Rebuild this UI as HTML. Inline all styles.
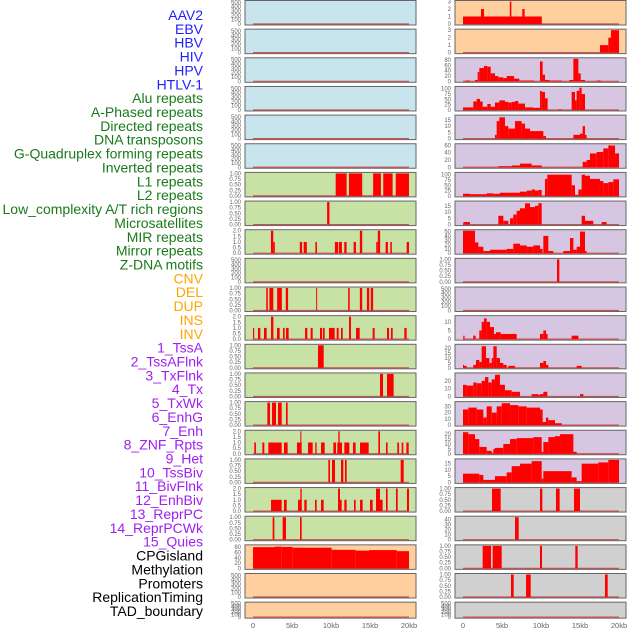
<!DOCTYPE html>
<html><head><meta charset="utf-8">
<style>
html,body{margin:0;padding:0;background:#fff;width:630px;height:630px;overflow:hidden}
svg{display:block}
text{font-family:"Liberation Sans",sans-serif}
</style></head>
<body>
<svg id="chart" width="630" height="630" viewBox="0 0 630 630"></svg>
<script>
const categories=["AAV2","EBV","HBV","HIV","HPV","HTLV-1","Alu repeats","A-Phased repeats","Directed repeats","DNA transposons","G-Quadruplex forming repeats","Inverted repeats","L1 repeats","L2 repeats","Low_complexity A/T rich regions","Microsatellites","MIR repeats","Mirror repeats","Z-DNA motifs","CNV","DEL","DUP","INS","INV","1_TssA","2_TssAFlnk","3_TxFlnk","4_Tx","5_TxWk","6_EnhG","7_Enh","8_ZNF_Rpts","9_Het","10_TssBiv","11_BivFlnk","12_EnhBiv","13_ReprPC","14_ReprPCWk","15_Quies","CPGisland","Methylation","Promoters","ReplicationTiming","TAD_boundary"];
const categoryGroups=[6,13,5,15,5];
const groupColors=["#1f1fff","#1a7a1a","#ffa500","#a020f0","#000000"];
const xTickLabels=["0","5kb","10kb","15kb","20kb"];
const xTickValues=[0,5,10,15,20];
const leftBg=["b","b","b","b","b","b","g","g","g","g","g","g","g","g","g","g","g","g","g","o","o","o"];
const rightBg=["o","o","p","p","p","p","p","p","p","p","p","p","p","p","p","p","p","e","e","e","e","e"];
const leftTicks=[null,null,null,null,null,null,"1","1","2",null,"1","2","1","1","1","2","1","2","1","80",null,null];
const rightTicks=["3","3","80","100","15","60","100","15","50","1",null,"10","20","20b","30","20","15","1","40","1","1",null];
const leftBars=[[],[],[],[],[],[],
[[10.6,12.0,1],[12.3,14.0,1],[15.4,16.4,1],[16.7,17.9,1],[18.3,20.0,1]],
[[9.5,9.8,1]],
[[2.3,2.6,2],[2.6,2.8,1],[6.0,6.3,1],[6.5,6.9,1],[8.0,8.2,1],[10.5,10.9,1],[11.0,11.4,1],[11.7,12.0,1],[12.9,13.2,1],[13.7,14.0,2],[15.8,16.0,1],[16.0,16.3,2],[17.0,17.3,1],[17.6,17.8,1],[19.7,20.0,1]],
[],
[[1.7,1.9,1],[2.1,2.6,1],[3.1,3.7,1],[4.2,4.5,1],[8.1,8.2,1],[12.2,12.4,1],[13.7,14.0,1],[14.6,14.9,1],[15.1,15.4,1]],
[[0,0.15,1],[0.64,0.94,1],[1.41,1.75,1],[2.31,2.61,2],[3.08,3.42,1],[3.85,4.06,1],[4.23,4.57,1],[6.67,6.97,1],[7.39,7.65,1],[8.59,8.85,1],[8.97,9.19,1],[9.74,10.47,1],[10.73,10.98,1],[11.28,11.5,1],[12.31,12.56,2],[13.21,13.68,1],[15.34,15.6,1],[17.18,17.44,1],[17.69,17.91,1],[19.4,19.7,1]],
[[8.33,9.06,1]],
[[16.28,16.67,1],[17.18,18.03,1]],
[[1.84,2.18,1],[2.44,2.95,1],[3.21,3.68,1],[4.23,4.44,1]],
[[0.17,0.38,1],[1.2,1.45,1],[1.97,3.68,1],[3.97,4.44,1],[5.64,6.24,1],[6.07,6.2,2],[7.05,7.65,1],[7.99,8.16,1],[8.72,9.19,1],[10.3,10.64,1],[10.81,11.41,1],[10.94,11.11,2],[11.71,12.35,1],[12.82,13.16,1],[13.72,14.83,1],[16.07,16.28,2],[17.05,17.26,1],[18.5,18.72,1],[19.06,19.27,1],[19.66,19.96,1]],
[[9.66,9.87,1],[10.13,10.51,1],[11.28,11.58,1],[11.79,12.01,1],[18.93,19.32,1]],
[[2.31,3.68,1],[3.97,4.32,1],[5.77,6.24,1],[6.07,6.24,2],[6.58,6.88,1],[7.95,8.16,1],[8.72,9.06,1],[10.98,11.37,1],[10.9,11.15,2],[11.71,12.0,1],[12.95,13.16,1],[13.72,14.06,1],[15.0,15.34,1],[15.77,16.28,2],[16.28,16.62,1],[17.05,17.26,2],[18.33,18.55,2],[19.74,20.0,2]],
[[2.52,2.74,1],[3.8,4.23,1],[6.03,6.24,1]],
[[0,2.82,80],[2.82,3.68,82],[3.68,5.09,81],[5.09,10.09,78],[10.09,13.16,70],[13.16,14.87,67],[14.87,18.42,69],[18.42,20.0,65]],
[],[]];
const rightBars=[
[[0,10.1,1],[2.3,2.7,2],[6.0,6.2,3],[7.6,7.9,2]],
[[17.56,18.63,1],[18.63,18.97,2],[18.97,20.0,3]],
[[0.26,0.9,3],[1.54,1.88,5],[1.88,2.09,35],[2.09,2.69,50],[2.69,3.12,58],[3.12,3.55,55],[3.55,4.1,30],[4.1,4.53,20],[4.53,5.17,15],[5.17,5.6,12],[5.6,6.54,20],[6.54,7.22,10],[7.22,9.1,3],[9.87,10.21,75],[10.21,10.51,25],[10.51,11.07,5],[11.07,12.65,3],[13.63,14.15,5],[14.15,14.79,85],[14.79,15.09,30],[15.09,15.64,5],[17.14,17.65,3]],
[[0,1.32,12],[1.32,1.75,40],[1.75,2.18,52],[2.18,2.52,40],[2.52,3.12,15],[3.12,3.55,28],[3.55,4.1,15],[4.1,4.66,35],[4.66,5.38,45],[5.38,5.81,38],[5.81,6.24,35],[6.24,6.67,38],[6.67,7.09,42],[7.09,7.95,30],[7.95,9.02,12],[9.02,9.87,10],[9.87,10.09,90],[10.09,10.51,85],[10.51,10.85,55],[12.22,12.65,3],[13.93,14.36,85],[14.36,14.57,45],[14.57,14.91,90],[14.91,15.21,105],[15.21,15.64,75]],
[[4.1,4.32,3],[4.32,4.66,14],[4.66,5.38,17],[5.38,5.81,10],[5.81,6.67,8],[6.67,7.52,14],[7.52,7.95,12],[7.95,8.59,8],[8.59,10.3,6],[10.3,10.64,2],[14.15,15.0,3],[15.0,15.34,4],[15.34,15.64,10],[15.64,15.85,3]],
[[4.53,6.24,3],[6.24,7.31,5],[7.31,8.8,10],[8.8,10.09,5],[15.34,15.85,15],[15.85,16.28,20],[16.28,17.14,38],[17.14,17.99,42],[17.99,18.63,52],[18.63,19.49,60],[19.49,20.0,38]],
[[0,0.9,10],[0.9,3.03,8],[3.03,3.89,12],[3.89,4.74,10],[4.74,7.31,15],[7.31,8.16,20],[8.16,8.8,25],[8.8,9.23,30],[9.23,9.66,25],[9.66,10.09,28],[10.51,10.81,80],[10.81,13.93,100],[13.93,14.36,50],[14.36,14.79,5],[14.79,15.21,30],[15.21,15.64,100],[15.64,16.28,95],[16.28,17.56,80],[17.56,17.99,70],[17.99,18.63,60],[18.63,19.27,65],[19.27,20.0,78]],
[[0.04,0.9,2],[4.53,5.17,7],[5.17,5.81,3],[6.03,6.45,5],[6.45,6.88,8],[6.88,7.31,11],[7.31,7.95,13],[7.95,8.59,17],[8.59,9.23,14],[9.23,9.66,15],[9.66,10.09,17],[15.21,15.64,7],[15.64,16.71,3],[17.78,18.42,2]],
[[0,1.54,52],[1.54,1.97,25],[1.97,2.61,15],[2.61,3.46,5],[3.46,5.6,8],[5.6,6.45,10],[6.45,7.31,22],[7.31,8.16,18],[8.16,9.02,15],[9.02,9.87,18],[9.87,10.21,10],[10.3,10.94,40],[10.94,11.58,5],[12.86,13.72,5],[13.72,14.15,35],[14.15,14.57,8],[14.57,15.0,15],[15.0,15.64,50],[15.64,15.85,5]],
[[12.05,12.35,1]],
[],
[[0.04,0.2,2],[1.32,1.62,2],[2.09,2.39,5],[2.39,2.69,10],[2.69,3.03,12],[3.03,3.46,10],[3.46,3.97,7],[3.97,4.23,3],[4.23,4.83,4],[4.83,6.88,3],[9.87,10.3,3],[10.3,10.64,5],[10.64,10.85,3],[13.93,14.79,2]],
[[0,0.04,3],[0.04,0.47,2],[1.32,1.67,3],[1.67,2.09,8],[2.09,2.39,6],[2.39,2.95,22],[2.95,3.38,10],[3.38,3.68,5],[3.68,3.89,10],[3.89,4.32,22],[4.32,4.74,10],[4.74,5.17,5],[5.17,5.6,3],[5.81,6.67,2],[9.87,10.3,5],[10.3,10.64,7],[10.64,10.94,3],[14.57,15.21,2]],
[[0,0.47,15],[0.47,1.32,14],[1.32,1.75,18],[1.75,2.39,17],[2.39,2.82,20],[2.82,3.25,25],[3.25,3.68,18],[3.68,4.1,22],[4.1,4.74,28],[4.74,5.38,15],[5.38,6.24,8],[6.24,7.31,6],[8.8,9.66,3],[9.66,9.87,2],[9.87,10.3,3],[10.3,10.81,6],[15.0,15.43,3]],
[[0,0.68,25],[0.68,1.75,28],[1.75,2.61,25],[2.61,3.03,12],[3.03,3.68,30],[3.68,4.32,20],[4.32,4.96,30],[4.96,6.03,35],[6.03,7.09,32],[7.09,8.16,30],[8.16,9.87,28],[9.87,10.21,25],[10.21,10.64,5],[10.64,10.94,12],[10.94,11.79,8],[11.79,12.65,3]],
[[0,0.68,22],[0.68,1.54,20],[1.54,2.09,15],[2.09,3.03,7],[3.03,3.68,3],[3.68,3.89,1],[3.89,4.1,5],[4.1,5.17,6],[5.17,6.03,10],[6.03,6.88,15],[6.88,9.02,16],[9.02,10.09,17],[10.09,10.3,2],[10.3,10.94,12],[10.94,11.79,17],[11.79,12.44,18],[12.44,14.15,20],[14.15,14.57,2]],
[[0,2.09,7],[2.09,2.61,6],[2.61,4.1,2],[4.1,5.6,5],[5.6,6.24,8],[6.24,7.31,13],[7.31,8.8,15],[8.8,10.09,17],[10.09,10.3,3],[10.3,13.93,9],[13.93,14.57,4],[14.57,15.21,1],[15.21,17.35,15],[17.35,18.63,16],[18.63,20.0,18]],
[[3.72,4.83,1],[9.87,10.17,1],[11.92,12.39,1],[14.23,15.0,1]],
[[6.67,7.14,45]],
[[2.52,3.59,1],[3.8,4.96,1],[9.87,10.13,1],[14.4,14.7,1]],
[[6.15,6.5,1],[8.08,8.68,1],[18.2,18.55,1]],
[]];

const NS="http://www.w3.org/2000/svg";
const svg=document.getElementById('chart');
function mk(tag,attrs,parent){const e=document.createElementNS(NS,tag);for(const k in attrs)e.setAttribute(k,attrs[k]);(parent||svg).appendChild(e);return e;}
const bgColors={b:"#c8e4ec",g:"#c8e2a6",o:"#ffd09e",p:"#d6c6e2",e:"#d0d0d0"};
const tickSets={
 "1":{max:1.0,vals:[0,0.25,0.5,0.75,1],lab:["0.00","0.25","0.50","0.75","1.00"]},
 "2":{max:2.0,vals:[0,0.5,1,1.5,2],lab:["0.0","0.5","1.0","1.5","2.0"]},
 "3":{max:3.0,vals:[0,1,2,3],lab:["0","1","2","3"]},
 "80":{max:85,vals:[0,20,40,60,80],lab:["0","20","40","60","80"]},
 "100":{max:106,vals:[0,25,50,75,100],lab:["0","25","50","75","100"]},
 "15":{max:18,vals:[0,5,10,15],lab:["0","5","10","15"]},
 "60":{max:62,vals:[0,20,40,60],lab:["0","20","40","60"]},
 "50":{max:52,vals:[0,10,20,30,40,50],lab:["0","10","20","30","40","50"]},
 "10":{max:13,vals:[0,5,10],lab:["0","5","10"]},
 "20":{max:23,vals:[0,5,10,15,20],lab:["0","5","10","15","20"]},
 "20b":{max:29,vals:[0,10,20],lab:["0","10","20"]},
 "30":{max:36,vals:[0,10,20,30],lab:["0","10","20","30"]},
 "40":{max:45,vals:[0,10,20,30,40],lab:["0","10","20","30","40"]},
 "e":{max:520,vals:[0,100,200,300,400,500],lab:["0","100","200","300","400","500"]}
};
const cols=[{x0:245,x1:416,z:253,bg:leftBg,ticks:leftTicks,bars:leftBars,name:"left"},
            {x0:455,x1:626,z:463,bg:rightBg,ticks:rightTicks,bars:rightBars,name:"right"}];
const kbPx=7.8;
// labels
let gi=0,cnt=0;
categories.forEach((c,i)=>{
  while(cnt>=categoryGroups[gi]){cnt-=categoryGroups[gi];gi++;}
  cnt++;
  const t=mk('text',{x:203,y:20+i*13.86,'text-anchor':'end','font-size':'14',fill:groupColors[gi]});
  t.textContent=c;
  
  
});
cols.forEach(col=>{
  for(let r=0;r<22;r++){
    const top=0.5+r*28.65, h=(r===21)?16:24.5, bottom=top+h;
    const g=mk('g',{});
    
    
    mk('rect',{x:col.x0,y:top,width:col.x1-col.x0,height:h,fill:bgColors[col.bg[r]],stroke:"#666","stroke-width":1},g);
    const ts=tickSets[col.ticks[r]||"e"];
    const yS=v=>bottom-1-(v/ts.max)*(h-2);
    const xS=kb=>col.z+kb*kbPx;
    mk('line',{x1:xS(0),x2:xS(20),y1:bottom-1,y2:bottom-1,stroke:"#c85050","stroke-width":1.2},g);
    col.bars[r].forEach(b=>{
      const rc=mk('rect',{x:xS(b[0]),y:yS(b[2]),width:Math.max(xS(b[1])-xS(b[0]),1),height:bottom-1-yS(b[2]),fill:"#ff0000"},g);
      
      
    });
    ts.vals.forEach((v,k)=>{
      const t=mk('text',{x:col.x0-4,y:yS(v)+2,'text-anchor':'end','font-size':'6',fill:"#666"},g);
      t.textContent=ts.lab[k];
    });
  }
  xTickValues.forEach((v,k)=>{
    const t=mk('text',{x:col.z+v*kbPx,y:628,'text-anchor':'middle','font-size':'7.5',fill:"#666"});
    t.textContent=xTickLabels[k];
    
    
  });
});
</script>
</body></html>
